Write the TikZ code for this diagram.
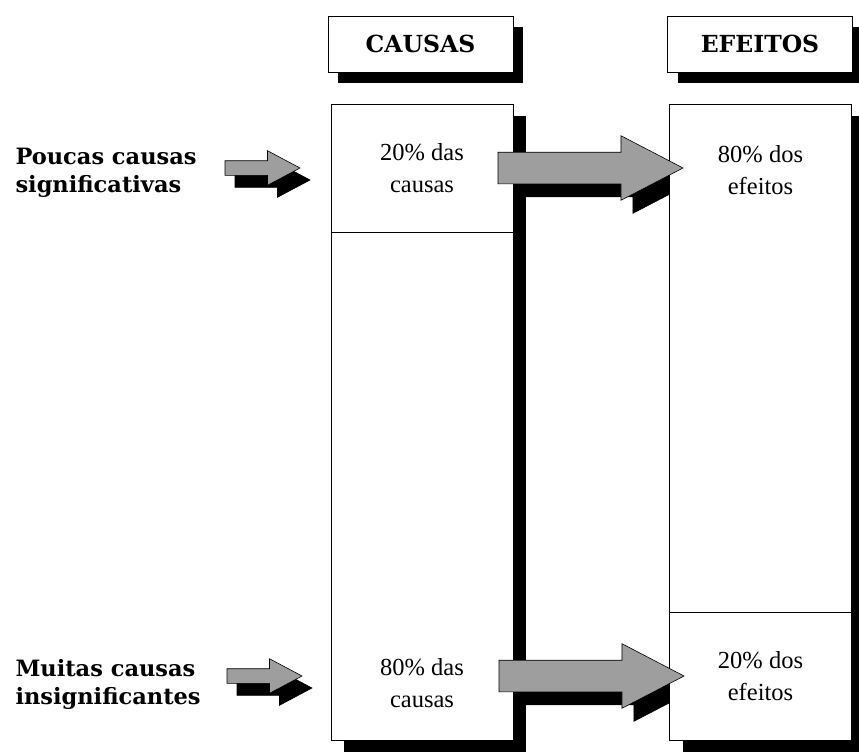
\documentclass[tikz,border=0pt]{standalone}
\usepackage{fontspec}
\setmainfont{Liberation Serif}
\newfontfamily\heavyfont{DejaVu Serif}
\usetikzlibrary{positioning,shapes.arrows,shadows}
\pgfdeclarelayer{back}
\pgfsetlayers{back,main}

\tikzset{
  blackshadow/.style 2 args={drop shadow={fill=black, opacity=1, shadow xshift=#1, shadow yshift=-#2}},
  headbox/.style={draw, fill=white, line width=0.8pt, minimum width=185pt, minimum height=56pt,
    inner sep=0pt, outer sep=0pt, font=\heavyfont\bfseries\fontsize{23.5}{27}\selectfont,
    blackshadow={10pt}{11pt}},
  cellbox/.style={draw, fill=white, line width=0.8pt, minimum width=182pt, inner sep=0pt,
    outer sep=0pt, blackshadow={13pt}{12pt}},
  celltext/.style={align=center, font=\fontsize{24.5}{32}\selectfont},
  sidelabel/.style={align=left, anchor=west, font=\heavyfont\bfseries\fontsize{22.5}{28}\selectfont},
  blockarrow/.style={single arrow, draw=black, line width=0.6pt, fill=black!38, inner xsep=0pt,
    anchor=tail, outer sep=0pt},
  bigarrow/.style={blockarrow, inner ysep=15.5pt, minimum height=185pt,
    single arrow head extend=16.5pt, single arrow tip angle=55},
  smallarrow/.style={blockarrow, inner ysep=7pt, minimum height=75pt,
    single arrow head extend=10pt, single arrow tip angle=56},
  arrowshadow/.style={fill=black, draw=black}
}

\begin{document}
\begin{tikzpicture}[x=1pt, y=-1pt]
  \useasboundingbox (0,0) rectangle (859,752);

  % headers
  \node[headbox] (causas) at (420.5,44) {CAUSAS};
  \node[headbox] (efeitos) at (760,44) {EFEITOS};

  % causes column
  \node[cellbox, celltext, minimum height=128pt] (c1) at (422,168) {20\% das\\causas};
  \node[cellbox, minimum height=508pt, below=0pt of c1] (c2) {};
  \node[celltext] (c2txt) at (422,683) {80\% das\\causas};

  % effects column
  \node[cellbox, minimum height=508pt] (e1) at (760.5,358) {};
  \node[cellbox, celltext, minimum height=128pt, below=0pt of e1] (e2) {20\% dos\\efeitos};
  \node[celltext] (e1txt) at (760.5,170) {80\% dos\\efeitos};

  % side labels
  \node[sidelabel] (few) at (12,173) {Poucas causas\\significativas};
  \node[sidelabel] (many) at (12,684) {Muitas causas\\insignificantes};

  % arrow shadows
  \begin{pgfonlayer}{back}
    \node[bigarrow, arrowshadow, xshift=12pt, yshift=-13pt] (a1s) at ([xshift=-15pt]c1.east) {};
    \node[bigarrow, arrowshadow, xshift=12pt, yshift=-13pt] (a2s) at ([xshift=-14pt]c2.east |- e2.center) {};
    \node[smallarrow, arrowshadow, xshift=10pt, yshift=-12pt] (s1s) at ([xshift=-106pt]c1.west) {};
    \node[smallarrow, arrowshadow, xshift=10pt, yshift=-12pt] (s2s) at ([xshift=-104pt]c2.west |- e2.center) {};
  \end{pgfonlayer}

  % arrows
  \node[bigarrow] (a1) at ([xshift=-15pt]c1.east) {};
  \node[bigarrow] (a2) at ([xshift=-14pt]c2.east |- e2.center) {};
  \node[smallarrow] (s1) at ([xshift=-106pt]c1.west) {};
  \node[smallarrow] (s2) at ([xshift=-104pt]c2.west |- e2.center) {};
\end{tikzpicture}
\end{document}
